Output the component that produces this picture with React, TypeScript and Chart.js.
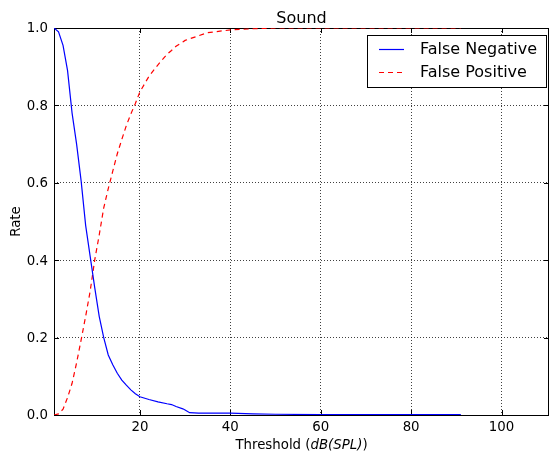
import React, { useEffect, useRef } from "react";
import { Chart, registerables } from "chart.js";

Chart.register(...registerables);

const thresholds = [1, 2, 3, 4, 5, 6, 7, 8, 9, 10, 11, 12, 13, 14, 15, 16, 17, 18, 19, 20, 22, 24, 26, 27, 28, 29.5, 30, 31, 33, 35, 40, 45, 50, 60, 70, 80, 91];
const falseNegative = [1.0, 0.99, 0.955, 0.89, 0.78, 0.7, 0.605, 0.49, 0.41, 0.33, 0.255, 0.2, 0.155, 0.13, 0.108, 0.09, 0.077, 0.065, 0.055, 0.047, 0.04, 0.034, 0.029, 0.027, 0.022, 0.016, 0.013, 0.006, 0.005, 0.005, 0.005, 0.003, 0.002, 0.001, 0.001, 0.001, 0.001];
const falsePositive = [0.0, 0.003, 0.015, 0.045, 0.082, 0.135, 0.194, 0.255, 0.32, 0.4, 0.465, 0.535, 0.585, 0.63, 0.675, 0.712, 0.748, 0.778, 0.805, 0.835, 0.875, 0.905, 0.932, 0.942, 0.953, 0.964, 0.968, 0.972, 0.98, 0.988, 0.995, 0.998, 1.0, 1.0, 1.0, 1.0, 1.0];
const xTicks = [20, 40, 60, 80, 100];
const yTicks = [0, 0.2, 0.4, 0.6, 0.8, 1.0];
const seriesNames = ["False Negative", "False Positive"];
const chartTitle = "Sound";
const yLabel = "Rate";
const xLabelParts = ["Threshold (", "dB(SPL)", ")"];

const FONT = "'DejaVu Sans', sans-serif";

const framePlugin = {
  id: "frame",
  beforeDatasetsDraw(chart: any) {
    const { ctx, chartArea } = chart;
    const { left, right, top, bottom } = chartArea;
    const xs = chart.scales.x;
    const ys = chart.scales.y;
    ctx.save();
    ctx.strokeStyle = "#000";
    ctx.lineWidth = 1;
    ctx.setLineDash([]);
    ctx.strokeRect(Math.round(left) + 0.5, Math.round(top) + 0.5, Math.round(right - left) - 1, Math.round(bottom - top));
    const tl = 5;
    ctx.beginPath();
    xTicks.forEach((v) => {
      const px = Math.round(xs.getPixelForValue(v)) + 0.5;
      ctx.moveTo(px, bottom);
      ctx.lineTo(px, bottom - tl);
      ctx.moveTo(px, top);
      ctx.lineTo(px, top + tl);
    });
    yTicks.forEach((v) => {
      const py = Math.round(ys.getPixelForValue(v)) + 0.5;
      ctx.moveTo(left, py);
      ctx.lineTo(left + tl, py);
      ctx.moveTo(right, py);
      ctx.lineTo(right - tl, py);
    });
    ctx.stroke();
    ctx.restore();
  },
  afterDraw(chart: any) {
    const { ctx, chartArea } = chart;
    const { left, right, top, bottom } = chartArea;
    ctx.save();
    // title
    ctx.fillStyle = "#000";
    ctx.font = `16px ${FONT}`;
    ctx.textAlign = "center";
    ctx.textBaseline = "alphabetic";
    ctx.fillText(chartTitle, (left + right) / 2, 23);
    // x label
    const f1 = `13.33px ${FONT}`;
    const f2 = `italic 13.33px ${FONT}`;
    ctx.font = f1;
    const w1 = ctx.measureText(xLabelParts[0]).width;
    const w3 = ctx.measureText(xLabelParts[2]).width;
    ctx.font = f2;
    const w2 = ctx.measureText(xLabelParts[1]).width;
    const total = w1 + w2 + w3;
    const x0 = (left + right) / 2 - total / 2;
    ctx.textAlign = "left";
    ctx.font = f1;
    ctx.fillText(xLabelParts[0], x0, 449);
    ctx.font = f2;
    ctx.fillText(xLabelParts[1], x0 + w1, 449);
    ctx.font = f1;
    ctx.fillText(xLabelParts[2], x0 + w1 + w2, 449);
    // y label
    ctx.save();
    ctx.translate(20, (top + bottom) / 2);
    ctx.rotate(-Math.PI / 2);
    ctx.textAlign = "center";
    ctx.textBaseline = "alphabetic";
    ctx.font = f1;
    ctx.fillText(yLabel, 0, 0);
    ctx.restore();
    // legend
    const bx = 367.5, by = 35.5, bw = 179, bh = 52;
    ctx.fillStyle = "#fff";
    ctx.fillRect(bx, by, bw, bh);
    ctx.strokeStyle = "#000";
    ctx.lineWidth = 1;
    ctx.strokeRect(bx, by, bw, bh);
    const rows = [
      { y: 49.5, color: "#0000ff", dash: [] as number[] },
      { y: 72.5, color: "#ff0000", dash: [5, 4] },
    ];
    rows.forEach((r, i) => {
      ctx.beginPath();
      ctx.strokeStyle = r.color;
      ctx.lineWidth = 1.2;
      ctx.setLineDash(r.dash);
      ctx.moveTo(379, r.y);
      ctx.lineTo(404, r.y);
      ctx.stroke();
      ctx.setLineDash([]);
      ctx.fillStyle = "#000";
      ctx.font = `16px ${FONT}`;
      ctx.textAlign = "left";
      ctx.textBaseline = "middle";
      ctx.fillText(seriesNames[i], 420, r.y);
    });
    ctx.restore();
  },
};

export default function App() {
  const ref = useRef<HTMLCanvasElement | null>(null);
  useEffect(() => {
    if (!ref.current) return;
    const chart = new Chart(ref.current, {
      type: "line",
      data: {
        datasets: [
          {
            label: seriesNames[0],
            data: thresholds.map((t, i) => ({ x: t, y: falseNegative[i] })),
            borderColor: "#0000ff",
            borderWidth: 1.2,
            pointRadius: 0,
            fill: false,
            tension: 0,
          },
          {
            label: seriesNames[1],
            data: thresholds.map((t, i) => ({ x: t, y: falsePositive[i] })),
            borderColor: "#ff0000",
            borderWidth: 1.2,
            borderDash: [5, 4],
            pointRadius: 0,
            fill: false,
            tension: 0,
          },
        ],
      },
      options: {
        responsive: false,
        animation: false,
        devicePixelRatio: 1,
        layout: { padding: { top: 28, right: 2, left: 0, bottom: 0 } },
        plugins: {
          legend: { display: false },
          title: { display: false },
          tooltip: { enabled: false },
        },
        scales: {
          x: {
            type: "linear",
            min: 1,
            max: 110.5,
            afterBuildTicks: (scale: any) => {
              scale.ticks = xTicks.map((v) => ({ value: v }));
            },
            afterFit: (scale: any) => {
              scale.height = 42;
            },
            grid: { color: "rgba(0,0,0,0.75)", lineWidth: 1, drawTicks: false },
            border: { display: false, dash: [1, 2] },
            ticks: {
              color: "#000",
              font: { family: "DejaVu Sans", size: 13.33 },
              padding: 5,
              maxRotation: 0,
              autoSkip: false,
            },
          },
          y: {
            type: "linear",
            min: 0,
            max: 1,
            afterBuildTicks: (scale: any) => {
              scale.ticks = yTicks.map((v) => ({ value: v }));
            },
            afterFit: (scale: any) => {
              scale.width = 54;
            },
            grid: { color: "rgba(0,0,0,0.75)", lineWidth: 1, drawTicks: false },
            border: { display: false, dash: [1, 2] },
            ticks: {
              color: "#000",
              font: { family: "DejaVu Sans", size: 13.33 },
              padding: 6,
              labelOffset: 1,
              autoSkip: false,
              callback: (v: any) => Number(v).toFixed(1),
            },
          },
        },
      },
      plugins: [framePlugin],
    });
    return () => chart.destroy();
  }, []);
  return (
    <div style={{ position: "absolute", left: 0, top: 0, width: 551, height: 457, background: "#fff" }}>
      <canvas ref={ref} width={551} height={457} style={{ width: 551, height: 457 }} />
    </div>
  );
}
